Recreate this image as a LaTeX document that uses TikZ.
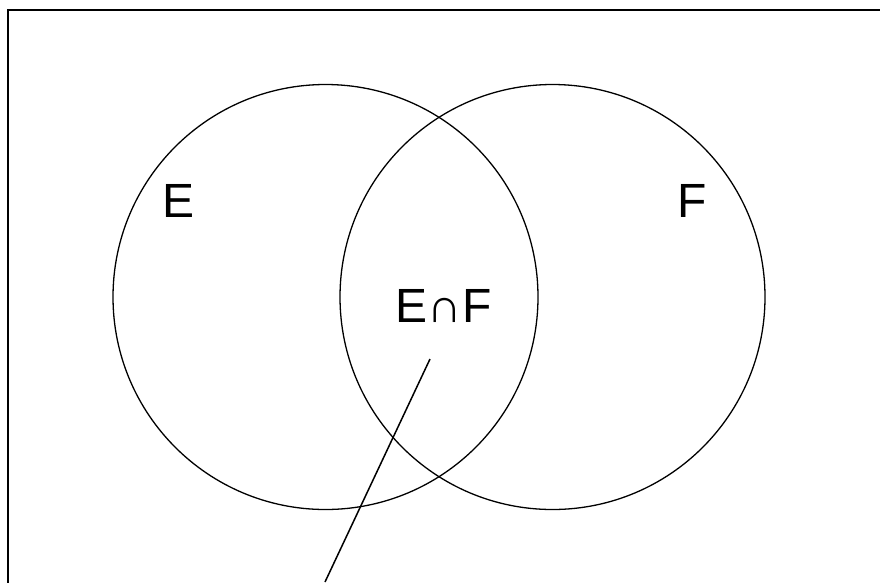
\documentclass[tikz,border=0pt]{standalone}
\usepackage{fontspec}
\setmainfont{Liberation Sans}
\begin{document}
\begin{tikzpicture}[x=1pt,y=-1pt,
  setcircle/.style={draw=black,line width=1.3pt},
  lbl/.style={inner sep=0pt,font=\fontsize{48}{48}\selectfont}]
\useasboundingbox (0,0) rectangle (880,582);
\clip (0,0) rectangle (880,582);
\fill[white] (0,0) rectangle (880,582);
\draw[line width=2.2pt] (8,10) rectangle (920,640);
\node[setcircle,circle,minimum size=425pt,inner sep=0pt] (E) at (325.5,297) {};
\node[setcircle,circle,minimum size=425pt,inner sep=0pt] (F) at (552.5,297) {};
\node[lbl] (lE) at (179,200.5) {E};
\node[lbl] (lF) at (692,200.5) {F};
\node[lbl] (lEF) at (443.5,306.5) {E∩F};
\coordinate (p1) at (430,359);
\coordinate (p2) at (325,582);
\draw[line width=1.5pt] (p1) -- (p2);
\end{tikzpicture}
\end{document}
